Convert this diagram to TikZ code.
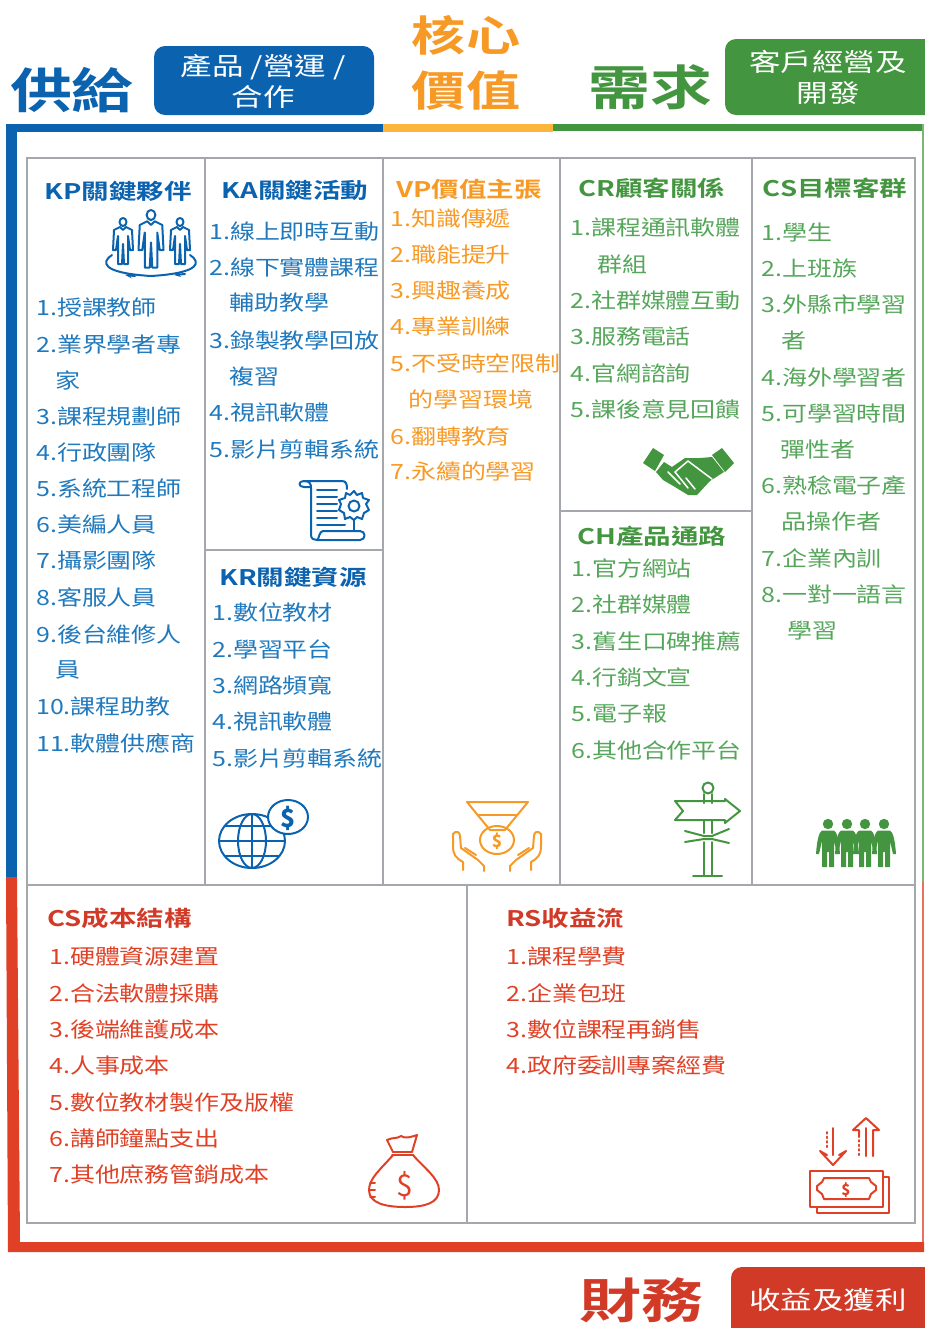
\documentclass[tikz,border=0pt]{standalone}
\usepackage{fontspec}
\setmainfont{Noto Sans CJK TC}
\newfontfamily\itemcjk[FakeStretch=1.19]{Noto Sans CJK TC}
\newfontfamily\boxcjk[FakeStretch=1.26]{Noto Sans CJK TC}
\newfontfamily\headcjk[FakeStretch=1.28]{Noto Sans CJK TC Bold}
\newfontfamily\titlecjk[FakeStretch=1.29]{Noto Sans CJK TC Bold}
\usetikzlibrary{shapes, positioning, arrows.meta, calc}

\definecolor{supplyblue}{HTML}{0B62AF}
\definecolor{itemblue}{HTML}{2079BD}
\definecolor{coreorange}{HTML}{F79A25}
\definecolor{barorange}{HTML}{FDB53C}
\definecolor{demandgreen}{HTML}{43963F}
\definecolor{itemgreen}{HTML}{55A65A}
\definecolor{financered}{HTML}{D23A28}
\definecolor{barred}{HTML}{E04126}
\definecolor{gridgray}{HTML}{A4A8AC}

\tikzset{
  item/.style={anchor=west, inner sep=0pt, font=\itemcjk\fontsize{21}{21}\selectfont},
  head/.style={inner sep=0pt, font=\headcjk\fontsize{21.5}{21.5}\selectfont},
  title/.style={inner sep=0pt, font=\titlecjk\fontsize{48}{48}\selectfont},
  tag/.style={text=white, inner sep=0pt, align=center, font=\boxcjk\fontsize{25}{31}\selectfont},
  tagbox/.style={rounded corners=11pt},
  grid/.style={draw=gridgray, line width=1.5pt},
  icon/.style={line width=2pt, line join=round, line cap=round},
  person/.pic={
    \draw[icon] (0,-8) circle (3.5 and 4);
    \draw[icon] (-3,-3) -- (0,0) -- (3,-3) -- (9,0) -- (10,20) -- (7,20) -- (5,6) -- (5,34) -- (1,34) -- (0,14) -- (-1,34) -- (-5,34) -- (-5,6) -- (-7,20) -- (-10,20) -- (-9,0) -- cycle;
  },
  walker/.pic={
    \fill (0,0) circle (5.2);
    \fill (-6,6.5) -- (6,6.5) .. controls (9,8) and (11,16) .. (12,30) -- (9,30) -- (6,17) -- (6,43) -- (1,43) -- (1,28) -- (-1,28) -- (-1,43) -- (-6,43) -- (-6,17) -- (-9,30) -- (-12,30) .. controls (-11,16) and (-9,8) .. (-6,6.5) -- cycle;
  }
}

\begin{document}
\begin{tikzpicture}[x=1pt, y=-1pt, every node/.style={text depth=0pt}]
\useasboundingbox (0,0) rectangle (924,1328);

% Frame
\fill[supplyblue] (6,124) rectangle (383,132);
\fill[supplyblue] (6,124) rectangle (17,877);
\fill[barorange] (383,124) rectangle (553,132);
\fill[demandgreen] (553,124) rectangle (924,131);
\fill[demandgreen!70!white] (922,124) rectangle (924,882);
\fill[barred!75!white] (922,882) rectangle (924,1243);
\fill[barred] (6,877) -- (17,877) -- (20,1242) -- (924,1242) -- (924,1252) -- (8,1252) -- cycle;

% Titles
\node (supply) [title, text=supplyblue] at (72,88) {供給};
\fill[supplyblue, tagbox] (154,46) rectangle (374,115);
\node (supplytag) [tag] at (263,80) {產品 /營運 /\\合作};
\node (core) [title, text=coreorange, font=\titlecjk\fontsize{42}{55}\selectfont, align=center] at (466,61) {核心\\價值};
\node (demand) [title, text=demandgreen] at (650,85) {需求};
\fill[demandgreen, tagbox] (725,39) rectangle (950,115);
\node (demandtag) [tag] at (828,76) {客戶經營及\\開發};
\node (finance) [title, text=financered] at (641,1298) {財務};
\fill[financered, tagbox] (731,1267) rectangle (950,1345);
\node (financetag) [tag] at (828,1299) {收益及獲利};

% Grid
\draw[grid] (27,158) rectangle (915,1223);
\draw[grid] (27,885) -- (915,885);
\draw[grid] (205,158) -- (205,885);
\draw[grid] (383,158) -- (383,885);
\draw[grid] (560,158) -- (560,885);
\draw[grid] (752,158) -- (752,885);
\draw[grid] (467,885) -- (467,1223);
\draw[grid] (205,550) -- (383,550);
\draw[grid] (560,511) -- (752,511);

% Key partners
\begin{scope}[every node/.append style={text=itemblue}]
\node (kp) [head, text=supplyblue] at (118,190) {KP關鍵夥伴};
\node (kp1) [item] at (36,307) {1.授課教師};
\node (kp2) [item] at (36,344) {2.業界學者專};
\node (kp2b) [item] at (55,380) {家};
\node (kp3) [item] at (36,416) {3.課程規劃師};
\node (kp4) [item] at (36,452) {4.行政團隊};
\node (kp5) [item] at (36,488) {5.系統工程師};
\node (kp6) [item] at (36,524) {6.美編人員};
\node (kp7) [item] at (36,560) {7.攝影團隊};
\node (kp8) [item] at (36,597) {8.客服人員};
\node (kp9) [item] at (36,634) {9.後台維修人};
\node (kp9b) [item] at (55,669) {員};
\node (kp10) [item] at (36,706) {10.課程助教};
\node (kp11) [item] at (36,742) {11.軟體供應商};

% Key activities
\node (ka) [head, text=supplyblue] at (295,189) {KA關鍵活動};
\node (ka1) [item] at (209,231) {1.線上即時互動};
\node (ka2) [item] at (209,267) {2.線下實體課程};
\node (ka2b) [item] at (229,302) {輔助教學};
\node (ka3) [item] at (209,340) {3.錄製教學回放};
\node (ka3b) [item] at (229,376) {複習};
\node (ka4) [item] at (209,412) {4.視訊軟體};
\node (ka5) [item] at (209,449) {5.影片剪輯系統};

% Key resources
\node (kr) [head, text=supplyblue] at (293,576) {KR關鍵資源};
\node (kr1) [item] at (212,612) {1.數位教材};
\node (kr2) [item] at (212,649) {2.學習平台};
\node (kr3) [item] at (212,685) {3.網路頻寬};
\node (kr4) [item] at (212,721) {4.視訊軟體};
\node (kr5) [item] at (212,758) {5.影片剪輯系統};
\end{scope}

% Value
\begin{scope}[every node/.append style={text=coreorange}]
\node (vp) [head] at (469,188) {VP價值主張};
\node (vp1) [item] at (390,218) {1.知識傳遞};
\node (vp2) [item] at (390,254) {2.職能提升};
\node (vp3) [item] at (390,290) {3.興趣養成};
\node (vp4) [item] at (390,326) {4.專業訓練};
\node (vp5) [item] at (390,363) {5.不受時空限制};
\node (vp5b) [item] at (408,399) {的學習環境};
\node (vp6) [item] at (390,436) {6.翻轉教育};
\node (vp7) [item] at (390,471) {7.永續的學習};
\end{scope}

% Customers
\begin{scope}[every node/.append style={text=itemgreen}]
\node (cr) [head, text=demandgreen] at (652,187) {CR顧客關係};
\node (cr1) [item] at (570,227) {1.課程通訊軟體};
\node (cr1b) [item] at (597,264) {群組};
\node (cr2) [item] at (570,300) {2.社群媒體互動};
\node (cr3) [item] at (570,336) {3.服務電話};
\node (cr4) [item] at (570,373) {4.官網諮詢};
\node (cr5) [item] at (570,409) {5.課後意見回饋};

\node (ch) [head, text=demandgreen] at (652,535) {CH產品通路};
\node (ch1) [item] at (571,568) {1.官方網站};
\node (ch2) [item] at (571,604) {2.社群媒體};
\node (ch3) [item] at (571,641) {3.舊生口碑推薦};
\node (ch4) [item] at (571,677) {4.行銷文宣};
\node (ch5) [item] at (571,713) {5.電子報};
\node (ch6) [item] at (571,750) {6.其他合作平台};

\node (cs) [head, text=demandgreen] at (835,187) {CS目標客群};
\node (cs1) [item] at (761,232) {1.學生};
\node (cs2) [item] at (761,268) {2.上班族};
\node (cs3) [item] at (761,304) {3.外縣市學習};
\node (cs3b) [item] at (781,340) {者};
\node (cs4) [item] at (761,377) {4.海外學習者};
\node (cs5) [item] at (761,413) {5.可學習時間};
\node (cs5b) [item] at (780,449) {彈性者};
\node (cs6) [item] at (761,485) {6.熟稔電子產};
\node (cs6b) [item] at (781,521) {品操作者};
\node (cs7) [item] at (761,558) {7.企業內訓};
\node (cs8) [item] at (761,594) {8.一對一語言};
\node (cs8b) [item] at (787,630) {學習};
\end{scope}

% Finance
\begin{scope}[every node/.append style={text=barred}]
\node (cost) [head, text=financered, anchor=west] at (47,917) {CS成本結構};
\node (cost1) [item] at (49,956) {1.硬體資源建置};
\node (cost2) [item] at (49,993) {2.合法軟體採購};
\node (cost3) [item] at (49,1029) {3.後端維護成本};
\node (cost4) [item] at (49,1065) {4.人事成本};
\node (cost5) [item] at (49,1102) {5.數位教材製作及版權};
\node (cost6) [item] at (49,1138) {6.講師鐘點支出};
\node (cost7) [item] at (49,1174) {7.其他庶務管銷成本};

\node (rs) [head, text=financered, anchor=west] at (506,917) {RS收益流};
\node (rs1) [item] at (506,956) {1.課程學費};
\node (rs2) [item] at (506,993) {2.企業包班};
\node (rs3) [item] at (506,1029) {3.數位課程再銷售};
\node (rs4) [item] at (506,1065) {4.政府委訓專案經費};
\end{scope}

% Partners icon
\begin{scope}[supplyblue]
\pic at (123,230) {person};
\pic[scale=1.25] at (151,225) {person};
\pic at (180,230) {person};
\draw[icon] (112,255) .. controls (101,262) and (101,273) .. (151,276) .. controls (201,273) and (201,262) .. (190,255);
\draw[icon, -{Stealth[length=7pt]}] (135,276) -- (125,275);
\draw[icon, -{Stealth[length=7pt]}] (185,274) -- (174,275);
\end{scope}

% Scroll icon
\begin{scope}[supplyblue]
\draw[icon] (311,487) -- (304,487) .. controls (298,487) and (298,481) .. (304,481) -- (342,481) .. controls (346,481) and (347,484) .. (347,489);
\draw[icon] (304,481) .. controls (310,481) and (311,484) .. (311,488) -- (311,535) .. controls (311,539) and (314,540) .. (317,540) -- (360,540) .. controls (366,540) and (366,531) .. (360,531) -- (323,531) .. controls (319,531) and (319,540) .. (317,540);
\draw[icon] (317,490) -- (337,490) (317,497) -- (337,497) (317,504) -- (337,504) (317,511) -- (337,511) (317,518) -- (337,518) (317,525) -- (345,525);
\draw[icon] (354,506) circle (5.5);
\draw[icon] (354,491) -- (357,495) -- (362,493) -- (363,498) -- (369,500) -- (366,504) -- (369,510) -- (364,513) -- (362,519) -- (357,517) -- (354,520) -- (350,517) -- (345,519) -- (344,513) -- (339,510) -- (341,504) -- (339,500) -- (345,498) -- (346,493) -- (350,495) -- cycle;
\draw[icon] (354,520) -- (354,531);
\end{scope}

% Globe icon
\begin{scope}[supplyblue]
\draw[icon] (252,841) ellipse (33 and 27);
\draw[icon] (252,841) ellipse (14 and 27);
\draw[icon] (252,814) -- (252,868) (219,841) -- (285,841);
\draw[icon] (225,826) -- (279,826) (225,856) -- (279,856);
\fill[white] (288,817) ellipse (20 and 17);
\draw[icon] (288,817) ellipse (20 and 17);
\node (coin) [inner sep=0pt, font=\bfseries\fontsize{25}{25}\selectfont] at (288,817) {\$};
\end{scope}

% Medal icon
\begin{scope}[coreorange]
\draw[icon] (467,802) -- (528,802) -- (505,830) -- (490,830) -- cycle;
\draw[icon] (478,815) -- (517,815);
\draw[icon] (497,840) ellipse (17 and 14);
\node (medal) [inner sep=0pt, font=\bfseries\fontsize{17}{17}\selectfont] at (497,840) {\$};
\draw[icon] (463,870) -- (463,862) .. controls (456,858) and (453,855) .. (453,846) -- (453,834) .. controls (456,830) and (460,832) .. (460,836) -- (461,848) -- (478,860) -- (484,866) -- (484,871);
\draw[icon] (465,848) -- (476,855);
\draw[icon] (531,870) -- (531,862) .. controls (538,858) and (541,855) .. (541,846) -- (541,834) .. controls (538,830) and (534,832) .. (534,836) -- (533,848) -- (516,860) -- (510,866) -- (510,871);
\draw[icon] (529,848) -- (518,855);
\end{scope}

% Handshake icon
\begin{scope}
\fill[demandgreen] (643,463) -- (653,448) -- (664,455) -- (655,471) -- cycle;
\fill[demandgreen] (712,455) -- (722,448) -- (734,463) -- (725,472) -- cycle;
\fill[demandgreen] (656,472) -- (664,462) -- (672,467) -- (685,458) -- (700,458) -- (712,457) -- (724,472) -- (710,481) -- (697,495) -- (688,495) -- (675,487) -- (663,480) -- cycle;
\draw[white, line width=1.5pt, line cap=round, line join=round] (675,472) -- (688,461) -- (712,479);
\draw[white, line width=1.5pt, line cap=round] (668,472) -- (680,484) (675,472) -- (688,488) (686,478) -- (695,489);
\end{scope}

% Signpost icon
\begin{scope}[demandgreen]
\draw[icon] (708,788) circle (5.5);
\draw[icon] (704,794) -- (704,803) (712,794) -- (712,803);
\draw[icon] (675,801) -- (725,801) -- (725,799) -- (740,811) -- (725,823) -- (725,820) -- (675,820) -- (683,811) -- cycle;
\draw[icon] (704,820) -- (704,833) (712,820) -- (712,833);
\draw[icon] (685,831) -- (704,836) -- (712,836) -- (729,829) (685,842) -- (704,839) -- (712,839) -- (729,843);
\draw[icon] (704,842) -- (704,876) (712,842) -- (712,876);
\draw[icon] (693,876) -- (722,876);
\end{scope}

% Segment icon
\begin{scope}[demandgreen]
\pic at (828,824) {walker};
\pic at (847,824) {walker};
\pic at (865,824) {walker};
\pic at (884,824) {walker};
\end{scope}

% Money bag icon
\begin{scope}[barred]
\draw[icon] (393,1152) -- (412,1152) (392,1155) -- (413,1155);
\draw[icon] (393,1152) -- (387,1140) .. controls (393,1137) and (397,1139) .. (401,1136) .. controls (405,1139) and (411,1137) .. (417,1135) -- (412,1152);
\draw[icon] (393,1155) .. controls (382,1168) and (369,1178) .. (369,1190) .. controls (369,1203) and (385,1207) .. (405,1207) .. controls (425,1207) and (439,1203) .. (439,1190) .. controls (439,1178) and (424,1168) .. (413,1155);
\draw[icon] (370,1183) -- (375,1183) (369,1190) -- (375,1190) (370,1197) -- (375,1197);
\node (bag) [inner sep=0pt, font=\fontsize{30}{30}\selectfont] at (405,1184) {\$};
\end{scope}

% Revenue icon
\begin{scope}[barred]
\draw[icon] (810,1171) rectangle (883,1207);
\draw[icon] (883,1177) -- (889,1177) -- (889,1213) -- (817,1213) -- (817,1207);
\draw[icon] (824,1178) -- (869,1178) -- (871,1182) -- (876,1186) -- (876,1190) -- (871,1194) -- (869,1199) -- (824,1199) -- (822,1194) -- (817,1190) -- (817,1186) -- (822,1182) -- cycle;
\node (note) [inner sep=0pt, font=\bfseries\fontsize{15}{15}\selectfont] at (846,1189) {\$};
\draw[icon] (833,1128) -- (833,1155);
\draw[icon] (827,1155) -- (820,1151) -- (833,1165) -- (846,1151) -- (839,1155);
\draw[icon, dash pattern=on 1.5pt off 3pt] (827,1132) -- (827,1150);
\draw[icon] (866,1156) -- (866,1128);
\draw[icon] (873,1156) -- (873,1130) -- (879,1130) -- (866,1118) -- (853,1130) -- (859,1130) -- (859,1137);
\draw[icon, dash pattern=on 1.5pt off 3pt] (859,1140) -- (859,1158);
\end{scope}

\end{tikzpicture}
\end{document}
